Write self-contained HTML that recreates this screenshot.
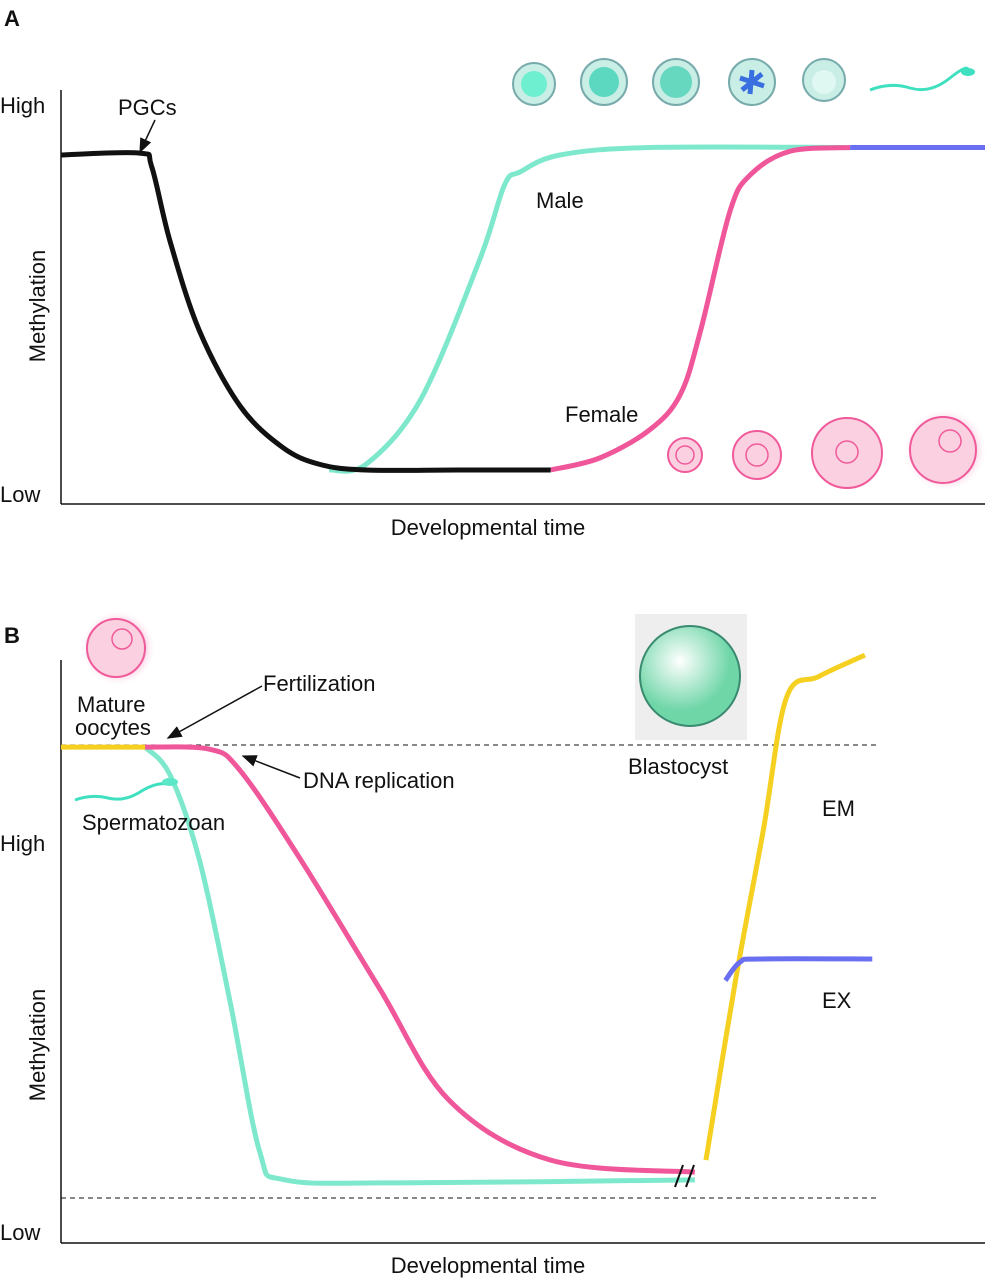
<!DOCTYPE html>
<html><head><meta charset="utf-8"><style>
body{margin:0;background:#fff}
svg{display:block;font-family:"Liberation Sans",Arial,sans-serif}
text{font-size:22px;fill:#111}
</style></head><body>
<svg width="988" height="1280" viewBox="0 0 988 1280">
<defs>
<marker id="ah" markerWidth="10" markerHeight="8" refX="9" refY="4" orient="auto"><path d="M0,0 L10,4 L0,8 Z" fill="#111"/></marker>
<radialGradient id="glow"><stop offset="0.6" stop-color="#f06aa8"/><stop offset="1" stop-color="#fff" stop-opacity="0"/></radialGradient>
<radialGradient id="blast" cx="0.4" cy="0.35"><stop offset="0" stop-color="#fff"/><stop offset="1" stop-color="#6fd6a8"/></radialGradient>
</defs>
<g id="panelA">
<text x="4" y="26" font-weight="bold">A</text>
<line x1="61" y1="90" x2="61" y2="504" stroke="#111" stroke-width="1.5"/>
<line x1="61" y1="504" x2="985" y2="504" stroke="#111" stroke-width="1.5"/>
<text x="0" y="113">High</text>
<text x="0" y="502">Low</text>
<text transform="translate(45,306) rotate(-90)" text-anchor="middle">Methylation</text>
<text x="488" y="535" text-anchor="middle">Developmental time</text>
<text x="118" y="115">PGCs</text>
<line x1="155" y1="120" x2="140" y2="152" stroke="#111" stroke-width="1.5" marker-end="url(#ah)"/>
<text x="536" y="208">Male</text>
<text x="565" y="422">Female</text>
<g>
<circle cx="534" cy="84" r="21" fill="#c8eee6" stroke="#7aa" stroke-width="2"/><circle cx="534" cy="84" r="13" fill="#6ef0d0"/>
<circle cx="604" cy="82" r="23" fill="#c8eee6" stroke="#7aa" stroke-width="2"/><circle cx="604" cy="82" r="15" fill="#5cd8c0"/>
<circle cx="676" cy="82" r="23" fill="#c8eee6" stroke="#7aa" stroke-width="2"/><circle cx="676" cy="82" r="16" fill="#66d8c0"/>
<circle cx="752" cy="82" r="23" fill="#c8eee6" stroke="#7aa" stroke-width="2"/><path d="M740,78 L764,86 M752,70 L750,94 M742,90 L762,74" stroke="#3a6fe0" stroke-width="5"/>
<circle cx="824" cy="80" r="21" fill="#c8eee6" stroke="#7aa" stroke-width="2"/><circle cx="824" cy="82" r="12" fill="#e0f8f2"/>
<path d="M870,90 Q890,82 910,88 T950,78 T968,72" stroke="#3fe0c0" stroke-width="3" fill="none"/><ellipse cx="968" cy="72" rx="7" ry="4" fill="#3fe0c0"/>
</g>
<g>
<circle cx="685" cy="455" r="17" fill="#fbd0e0" stroke="#f05a9a" stroke-width="2"/><circle cx="685" cy="455" r="9" fill="none" stroke="#f05a9a" stroke-width="1.5"/>
<circle cx="757" cy="455" r="24" fill="#fbd0e0" stroke="#f05a9a" stroke-width="2"/><circle cx="757" cy="455" r="11" fill="none" stroke="#f05a9a" stroke-width="1.5"/>
<circle cx="847" cy="453" r="35" fill="#fbd0e0" stroke="#f05a9a" stroke-width="2"/><circle cx="847" cy="452" r="11" fill="none" stroke="#f05a9a" stroke-width="1.5"/>
<circle cx="945" cy="450" r="42" fill="url(#glow)" opacity="0.6"/><circle cx="943" cy="450" r="33" fill="#fbd0e0" stroke="#f05a9a" stroke-width="2"/><circle cx="950" cy="441" r="11" fill="none" stroke="#f05a9a" stroke-width="1.5"/>
</g>
<g id="curvesA"></g>
</g>
<g id="panelB">
<text x="4" y="643" font-weight="bold">B</text>
<line x1="61" y1="660" x2="61" y2="1243" stroke="#111" stroke-width="1.5"/>
<line x1="61" y1="1243" x2="985" y2="1243" stroke="#111" stroke-width="1.5"/>
<line x1="61" y1="745" x2="877" y2="745" stroke="#111" stroke-dasharray="5,4"/>
<line x1="61" y1="1198" x2="877" y2="1198" stroke="#111" stroke-dasharray="5,4"/>
<text x="0" y="851">High</text>
<text x="0" y="1240">Low</text>
<text transform="translate(45,1045) rotate(-90)" text-anchor="middle">Methylation</text>
<text x="488" y="1273" text-anchor="middle">Developmental time</text>
<circle cx="118" cy="648" r="38" fill="url(#glow)" opacity="0.6"/>
<circle cx="116" cy="648" r="29" fill="#fbd0e0" stroke="#f05a9a" stroke-width="2"/><circle cx="122" cy="639" r="10" fill="none" stroke="#f05a9a" stroke-width="1.5"/>
<text x="77" y="712">Mature</text>
<text x="75" y="735">oocytes</text>
<text x="263" y="691">Fertilization</text>
<line x1="262" y1="686" x2="168" y2="738" stroke="#111" stroke-width="1.5" marker-end="url(#ah)"/>
<text x="303" y="788">DNA replication</text>
<line x1="300" y1="778" x2="243" y2="756" stroke="#111" stroke-width="1.5" marker-end="url(#ah)"/>
<g id="curvesB"></g>
<path d="M75,800 Q92,794 108,798 T140,792 T168,784" stroke="#3fe0c0" stroke-width="3" fill="none"/><ellipse cx="170" cy="782" rx="8" ry="4" fill="#5ce8c8"/>
<text x="82" y="830">Spermatozoan</text>
<rect x="635" y="614" width="112" height="126" fill="#eeeeee"/>
<circle cx="690" cy="676" r="50" fill="url(#blast)" stroke="#3a8a70" stroke-width="2"/>
<text x="628" y="774">Blastocyst</text>
<text x="822" y="816">EM</text>
<text x="822" y="1008">EX</text>
<g><line x1="675" y1="1187" x2="683" y2="1165" stroke="#111" stroke-width="2"/><line x1="686" y1="1187" x2="694" y2="1165" stroke="#111" stroke-width="2"/></g>
</g>
</svg>
<script>
// Panel A: x = developmental time (0-100), y = methylation (0-100)
const aBlack = [[0,84],[8.5,84.5],[9.8,81],[11.8,61],[15,37],[19.4,17],[24,6],[28,1.5],[33,0],[43,0],[53,0]];
const aMale = [[29,0],[33,1.5],[38.9,18.7],[45.3,56],[48,76],[49.7,79.5],[54,84],[63.7,86],[85,86]];
const aFemale = [[53,0],[58.3,3.2],[63.7,10.7],[67,20],[69.2,37],[72.4,69],[74.6,78.7],[78.9,85],[85.4,86]];
const aBlue = [[85.4,86],[100,86]];
// Panel B
const bYellowStart = [[0,99.5],[9.1,99.5]];
const bPink = [[9.1,99.5],[16.1,99],[19.4,94],[26,73],[34.5,43],[42,17],[53,3],[68.6,0.2]];
const bCyan = [[9.1,99.5],[11.8,93],[15,73],[18.3,40],[21.5,5],[24.2,-1.6],[36.7,-2.3],[68.6,-1.6]];
const bYellowEnd = [[69.8,3],[73,45],[76,80],[78.5,111],[82,116],[87,121]];
const bBlue = [[71.9,45],[73.5,49.3],[75.6,50],[87.8,50]];

function scaleA(p){return [61+p[0]*9.24, 470-p[1]*3.75];}
function scaleB(p){return [61+p[0]*9.24, 1173-p[1]*4.28];}
function pathFrom(pts,sc){
  const q=pts.map(sc);
  let d='M'+q[0][0]+','+q[0][1];
  for(let i=0;i<q.length-1;i++){
    const p0=q[i-1]||q[i],p1=q[i],p2=q[i+1],p3=q[i+2]||p2;
    const c1=[p1[0]+(p2[0]-p0[0])/6,p1[1]+(p2[1]-p0[1])/6];
    const c2=[p2[0]-(p3[0]-p1[0])/6,p2[1]-(p3[1]-p1[1])/6];
    d+=' C'+c1.join(',')+' '+c2.join(',')+' '+p2.join(',');
  }
  return d;
}
function draw(g,pts,sc,color,name){
  const el=document.createElementNS('http://www.w3.org/2000/svg','path');
  el.setAttribute('d',pathFrom(pts,sc));
  el.setAttribute('stroke',color);el.setAttribute('stroke-width','5');el.setAttribute('fill','none');
  
  
  document.getElementById(g).appendChild(el);
}
draw('curvesA',aMale,scaleA,'#7ee8cc','male-curve');
draw('curvesA',aFemale,scaleA,'#f0569a','female-curve');
draw('curvesA',aBlack,scaleA,'#111','pgc-curve');
draw('curvesA',aBlue,scaleA,'#6a6ef0','mature-curve');
draw('curvesB',bCyan,scaleB,'#7ee8cc','paternal-curve');
draw('curvesB',bPink,scaleB,'#f0569a','maternal-curve');
draw('curvesB',bYellowStart,scaleB,'#f5d020','gamete-curve');
draw('curvesB',bYellowEnd,scaleB,'#f5d020','em-curve');
draw('curvesB',bBlue,scaleB,'#6a6ef0','ex-curve');
</script>
</body></html>
